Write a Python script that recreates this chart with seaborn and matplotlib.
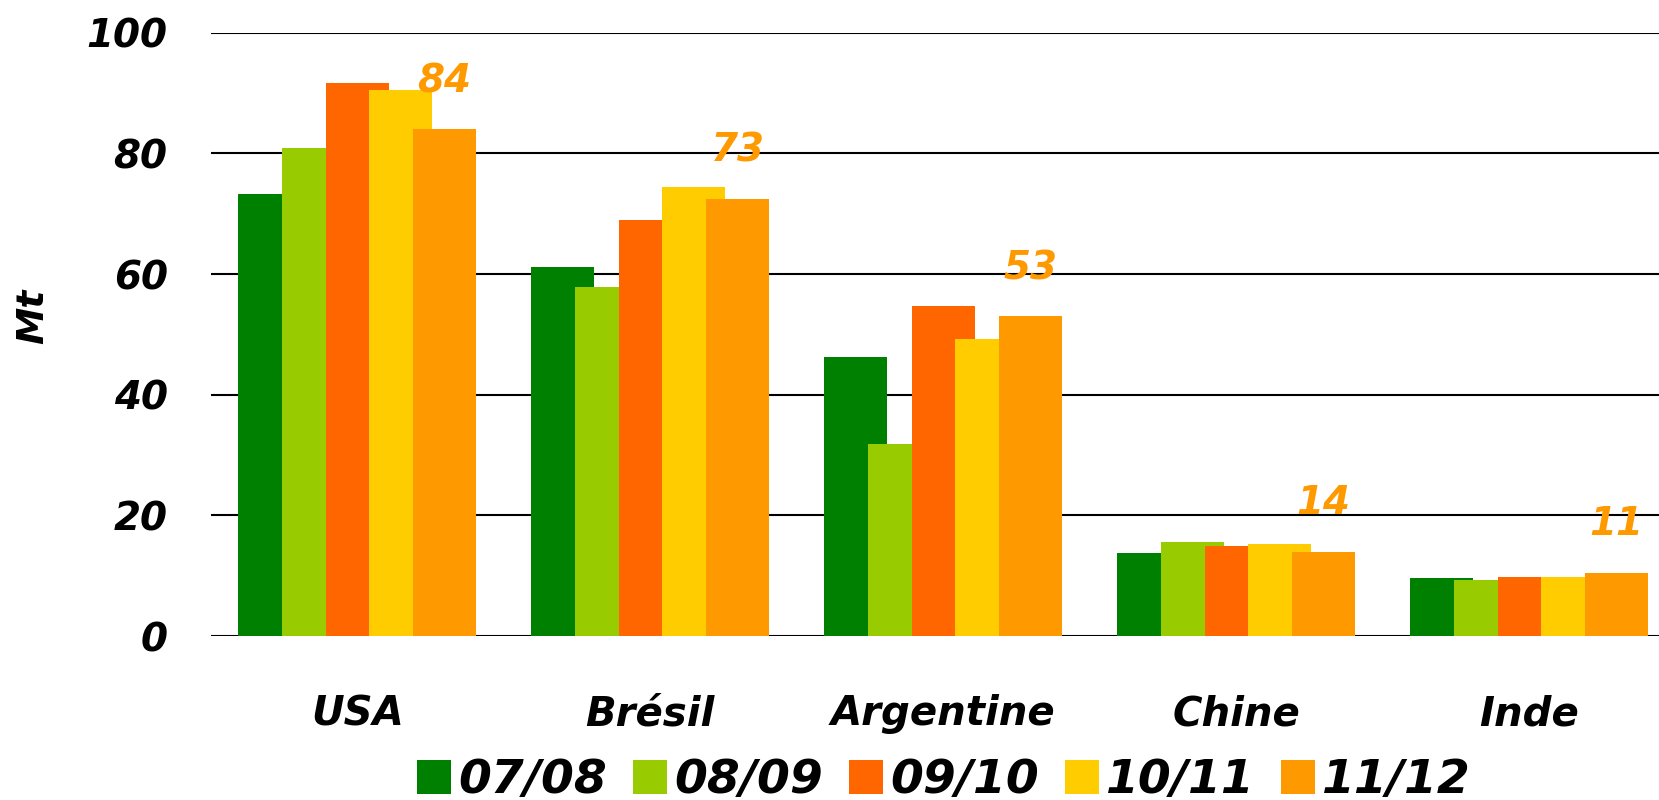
import matplotlib
matplotlib.use("Agg")
import matplotlib.pyplot as plt
import seaborn as sns
import pandas as pd
from matplotlib.patches import Patch

countries = ["USA", "Brésil", "Argentine", "Chine", "Inde"]
seasons = ["07/08", "08/09", "09/10", "10/11", "11/12"]
v0708 = [73.2, 61.1, 46.3, 13.7, 9.6]
v0809 = [80.9, 57.9, 31.9, 15.6, 9.3]
v0910 = [91.6, 68.9, 54.7, 14.9, 9.8]
v1011 = [90.5, 74.4, 49.3, 15.3, 9.8]
v1112 = [84.0, 72.5, 53.0, 14.0, 10.5]
labels_1112 = ["84", "73", "53", "14", "11"]
colors = ["#008000", "#99CC00", "#FF6600", "#FFCC00", "#FF9900"]

series = [v0708, v0809, v0910, v1011, v1112]
rows = []
for s, vals in zip(seasons, series):
    for c, v in zip(countries, vals):
        rows.append({"pays": c, "campagne": s, "Mt": v})
df = pd.DataFrame(rows)

sns.set_theme(style="white")
plt.rcParams["font.family"] = ["DejaVu Sans"]
plt.rcParams["text.color"] = "black"
plt.rcParams["xtick.color"] = "black"
plt.rcParams["ytick.color"] = "black"

fig = plt.figure(figsize=(16.59, 8.0), dpi=100)
ax = fig.add_axes([0.127, 0.205, 0.883, 0.754])

sns.barplot(data=df, x="pays", y="Mt", hue="campagne", order=countries,
            hue_order=seasons, palette=colors, width=0.745, gap=0,
            saturation=1, linewidth=0, ax=ax, legend=False)

# bars in the reference overlap: widen each around its centre
for cont in ax.containers:
    for bar in cont:
        xc = bar.get_x() + bar.get_width() / 2
        bar.set_width(0.215)
        bar.set_x(xc - 0.1075)

ax.set_ylim(0, 100)
ax.set_xlim(-0.5, 4.5)
ax.set_yticks([0, 20, 40, 60, 80, 100])
ax.grid(axis="y", color="black", linewidth=1.5)
ax.grid(axis="x", visible=False)
ax.set_axisbelow(True)
for sp in ax.spines.values():
    sp.set_visible(False)

ax.tick_params(axis="y", length=0, pad=31, labelsize=28)
ax.tick_params(axis="x", length=0, pad=42, labelsize=29)
for lab in ax.get_yticklabels() + ax.get_xticklabels():
    lab.set_fontweight("bold")
    lab.set_fontstyle("italic")
    lab.set_color("black")
ax.set_xlabel("")
ax.set_ylabel("")

fig.text(0.02, 0.604, "Mt", rotation=90, fontsize=27, fontweight="bold",
         fontstyle="italic", ha="center", va="center", color="black")

# value labels over the 11/12 bars
cont = ax.containers[4]
for bar, txt, v in zip(cont, labels_1112, v1112):
    xc = bar.get_x() + bar.get_width() / 2
    ax.text(xc, v + 8.0, txt, ha="center", va="center", fontsize=28,
            fontweight="bold", fontstyle="italic", color="#FF9900")

handles = [Patch(facecolor=c, edgecolor="none") for c in colors]
leg = fig.legend(handles, seasons, loc="center", bbox_to_anchor=(0.569, 0.024),
                 ncol=5, frameon=False, handlelength=0.72, handleheight=0.72,
                 handletextpad=0.15, columnspacing=0.55,
                 prop={"size": 34, "weight": "bold", "style": "italic"})
for t in leg.get_texts():
    t.set_color("black")

fig.savefig("out.png", dpi=100)
